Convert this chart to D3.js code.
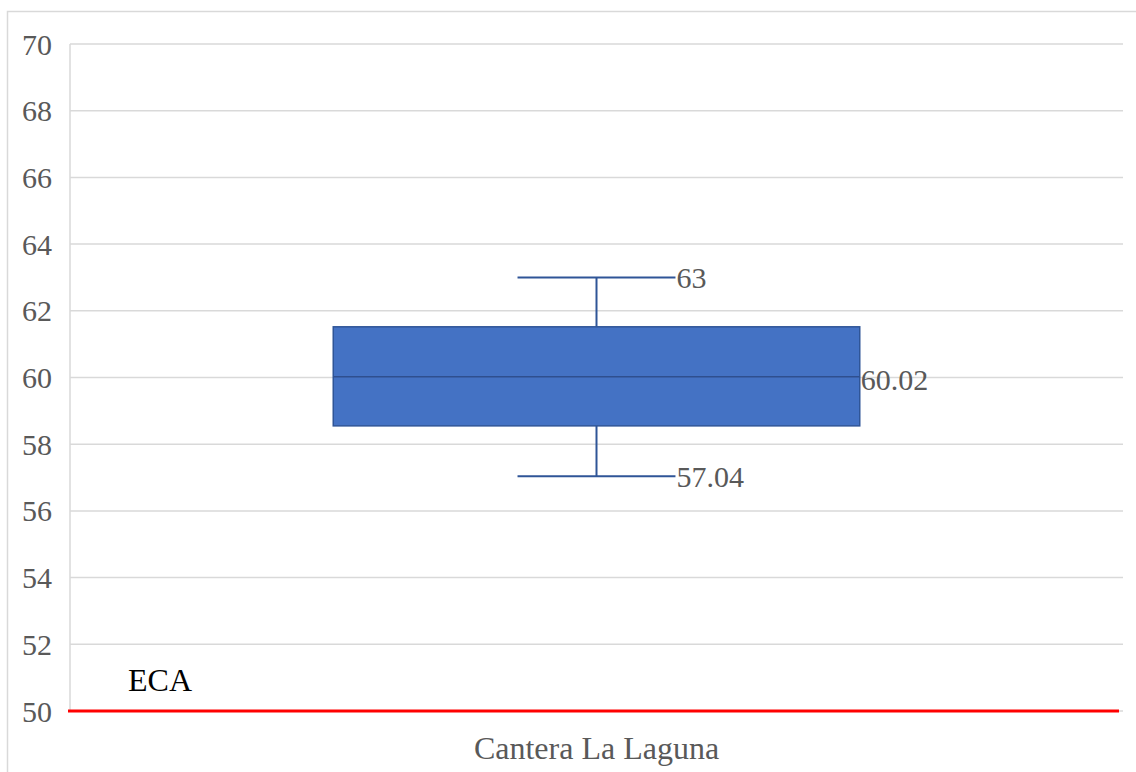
<!DOCTYPE html>
<html><head><meta charset="utf-8">
<script src="https://cdn.jsdelivr.net/npm/d3@7"></script>
<style>body{margin:0;background:#fff;} svg{display:block;}</style>
</head><body>
<svg id="c" width="1136" height="772"></svg>
<script>
const categories = ["Cantera La Laguna"];
const whiskerMin = [57.04];
const q1Values = [58.55];
const medianValues = [60.02];
const q3Values = [61.52];
const whiskerMax = [63];
const labelValues = ["63", "60.02", "57.04"];
const yTicks = [50,52,54,56,58,60,62,64,66,68,70];
const ecaValue = [50];
const ecaLabel = "ECA";

const svg = d3.select("#c");
const m = {left:70, right:1123, top:44, bottom:711};
const font = "'Liberation Serif','Times New Roman',serif";

// outer border
svg.append("rect").attr("x",7.5).attr("y",11.5).attr("width",1140).attr("height",800)
  .attr("fill","none").attr("stroke","#d9d9d9").attr("stroke-width",1.5);

const y = d3.scaleLinear().domain([50,70]).range([m.bottom,m.top]);
const x = d3.scaleBand().domain(categories).range([m.left,m.right]).paddingInner(0).paddingOuter(0.5);

// gridlines
svg.append("g").selectAll("line").data(yTicks).join("line")
  .attr("x1",m.left).attr("x2",m.right).attr("y1",d=>y(d)).attr("y2",d=>y(d))
  .attr("stroke","#d9d9d9").attr("stroke-width",1.5);
// left axis line
svg.append("line").attr("x1",m.left).attr("x2",m.left).attr("y1",m.top).attr("y2",m.bottom)
  .attr("stroke","#d9d9d9").attr("stroke-width",1.5);

// y tick labels
svg.append("g").selectAll("text").data(yTicks).join("text")
  .attr("x",52).attr("y",d=>y(d)).attr("dy","0.35em").attr("text-anchor","end")
  .attr("font-family",font).attr("font-size",30).attr("fill","#595959").text(d=>d);

// box plot
const g = svg.append("g");
categories.forEach((c,i)=>{
  const cx = x(c)+x.bandwidth()/2;
  const bw = x.bandwidth();
  const capW = bw*0.3;
  const blue = "#2f5597";
  g.append("line").attr("x1",cx).attr("x2",cx).attr("y1",y(whiskerMax[i])).attr("y2",y(q3Values[i])).attr("stroke",blue).attr("stroke-width",2);
  g.append("line").attr("x1",cx).attr("x2",cx).attr("y1",y(q1Values[i])).attr("y2",y(whiskerMin[i])).attr("stroke",blue).attr("stroke-width",2);
  g.append("line").attr("x1",cx-capW/2).attr("x2",cx+capW/2).attr("y1",y(whiskerMax[i])).attr("y2",y(whiskerMax[i])).attr("stroke",blue).attr("stroke-width",2);
  g.append("line").attr("x1",cx-capW/2).attr("x2",cx+capW/2).attr("y1",y(whiskerMin[i])).attr("y2",y(whiskerMin[i])).attr("stroke",blue).attr("stroke-width",2);
  g.append("rect").attr("x",x(c)).attr("y",y(q3Values[i])).attr("width",bw).attr("height",y(q1Values[i])-y(q3Values[i]))
    .attr("fill","#4472c4").attr("stroke","#2f5597").attr("stroke-width",1.5);
  g.append("line").attr("x1",x(c)).attr("x2",x(c)+bw).attr("y1",y(medianValues[i])).attr("y2",y(medianValues[i]))
    .attr("stroke","#2f4f8f").attr("stroke-width",1.5);
  const lab = [
    {t:labelValues[0], x:cx+capW/2+1, v:whiskerMax[i]},
    {t:labelValues[1], x:x(c)+bw+1, v:medianValues[i]-0.08},
    {t:labelValues[2], x:cx+capW/2+1, v:whiskerMin[i]-0.02}
  ];
  g.selectAll(null).data(lab).join("text").attr("x",d=>d.x).attr("y",d=>y(d.v)).attr("dy","0.35em")
    .attr("font-family",font).attr("font-size",30).attr("fill","#595959").text(d=>d.t);
});

// ECA line
svg.append("line").attr("x1",68).attr("x2",1119).attr("y1",y(ecaValue[0])).attr("y2",y(ecaValue[0]))
  .attr("stroke","#ff0000").attr("stroke-width",3);
svg.append("text").attr("x",128).attr("y",y(ecaValue[0])-20).attr("font-family",font).attr("font-size",32)
  .attr("fill","#000").text(ecaLabel);

// x category label
svg.append("g").selectAll("text").data(categories).join("text")
  .attr("x",d=>x(d)+x.bandwidth()/2).attr("y",759).attr("text-anchor","middle")
  .attr("font-family",font).attr("font-size",32).attr("fill","#595959").text(d=>d);
</script>
</body></html>
